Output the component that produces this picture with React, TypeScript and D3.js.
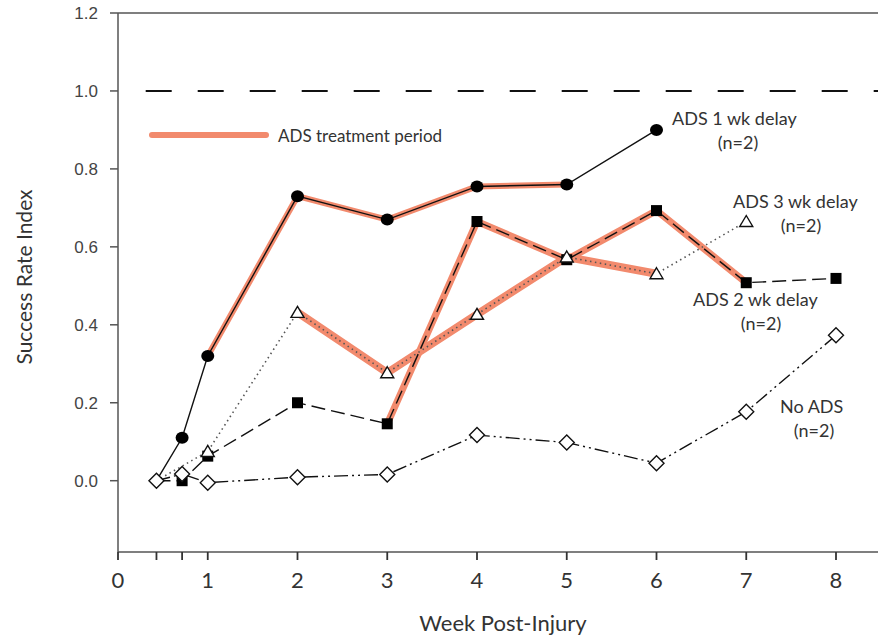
import React, { useEffect, useRef } from 'react'
import * as d3 from 'd3'

// weeks post-injury (3 days, 5 days, then weekly)
const weeksAll = [3 / 7, 5 / 7, 1, 2, 3, 4, 5, 6, 7, 8]

const ads1Weeks = [3 / 7, 5 / 7, 1, 2, 3, 4, 5, 6]
const ads1Values = [0, 0.11, 0.32, 0.73, 0.67, 0.755, 0.76, 0.9]

const ads2Weeks = weeksAll
const ads2Values = [0, 0, 0.063, 0.2, 0.146, 0.665, 0.567, 0.693, 0.508, 0.519]

const ads3Weeks = [3 / 7, 1, 2, 3, 4, 5, 6, 7]
const ads3Values = [0, 0.075, 0.432, 0.277, 0.427, 0.574, 0.531, 0.665]

const noAdsWeeks = weeksAll
const noAdsValues = [0, 0.017, -0.005, 0.009, 0.016, 0.117, 0.098, 0.045, 0.177, 0.373]

const xTickValues = [0, 3 / 7, 5 / 7, 1, 2, 3, 4, 5, 6, 7, 8]
const xTickLabels = ['0', '', '', '1', '2', '3', '4', '5', '6', '7', '8']
const yTickValues = [0, 0.2, 0.4, 0.6, 0.8, 1.0, 1.2]

const ORANGE = '#f28a6d'

const series = [
  { name: 'ADS 1 wk delay', weeks: ads1Weeks, values: ads1Values, marker: 'circle', dash: null, color: '#111', treat: [1, 5], band: 6, hideFirst: true },
  { name: 'ADS 2 wk delay', weeks: ads2Weeks, values: ads2Values, marker: 'square', dash: '14,6', color: '#111', treat: [3, 7], band: 7, hideFirst: true },
  { name: 'ADS 3 wk delay', weeks: ads3Weeks, values: ads3Values, marker: 'triangle', dash: '1.5,3.5', color: '#555', treat: [2, 6], band: 8, hideFirst: true },
  { name: 'No ADS', weeks: noAdsWeeks, values: noAdsValues, marker: 'diamond', dash: '14,4,2,4,2,4', color: '#111', treat: null, band: 0, hideFirst: false }
]

const labels = [
  { text: 'ADS 1 wk delay', x: 672, y: 125, anchor: 'start' },
  { text: '(n=2)', x: 738, y: 149, anchor: 'middle' },
  { text: 'ADS 3 wk delay', x: 733, y: 208, anchor: 'start' },
  { text: '(n=2)', x: 801, y: 232, anchor: 'middle' },
  { text: 'ADS 2 wk delay', x: 693, y: 306, anchor: 'start' },
  { text: '(n=2)', x: 761, y: 330, anchor: 'middle' },
  { text: 'No ADS', x: 780, y: 413, anchor: 'start' },
  { text: '(n=2)', x: 814, y: 437, anchor: 'middle' }
]

const LABEL_FONT = 'Lato, "Open Sans", sans-serif'

const App = () => {
  const chartRef = useRef<SVGSVGElement | null>(null)

  useEffect(() => {
    if (!chartRef.current) return
    const svg = d3.select(chartRef.current)
    svg.selectAll('*').remove()

    const width = 878
    const x = d3.scaleLinear().domain([0, 8]).range([118, 836])
    const y = d3.scaleLinear().domain([0, 1.2]).range([480.7, 13])
    const plotBottom = 552
    const plotRight = width

    svg.append('rect').attr('width', width).attr('height', 639).attr('fill', '#fff')

    // frame: top line, left axis, bottom axis
    const axisColor = '#555'
    svg.append('line').attr('x1', x(0)).attr('x2', plotRight).attr('y1', y(1.2)).attr('y2', y(1.2))
        .attr('stroke', axisColor).attr('stroke-width', 1.5)
    svg.append('line').attr('x1', x(0)).attr('x2', x(0)).attr('y1', y(1.2)).attr('y2', plotBottom)
        .attr('stroke', axisColor).attr('stroke-width', 1.5)
    svg.append('line').attr('x1', x(0)).attr('x2', plotRight).attr('y1', plotBottom).attr('y2', plotBottom)
        .attr('stroke', axisColor).attr('stroke-width', 1.5)

    // y ticks
    const yTicks = svg.append('g')
    yTicks.selectAll('line').data(yTickValues).enter().append('line')
        .attr('x1', x(0) - 8).attr('x2', x(0))
        .attr('y1', d => y(d)).attr('y2', d => y(d))
        .attr('stroke', axisColor).attr('stroke-width', 1.5)
    yTicks.selectAll('text').data(yTickValues).enter().append('text')
        .attr('x', 98).attr('y', d => y(d)).attr('dy', '0.36em')
        .attr('text-anchor', 'end')
        .style('font-family', '"Liberation Sans", Arial, sans-serif')
        .style('font-size', '17px').style('fill', '#444')
        .text(d => d3.format('.1f')(d))

    // x ticks
    const xTicks = svg.append('g')
    xTicks.selectAll('line').data(xTickValues).enter().append('line')
        .attr('x1', d => x(d)).attr('x2', d => x(d))
        .attr('y1', plotBottom).attr('y2', plotBottom + 8)
        .attr('stroke', '#333').attr('stroke-width', 1.8)
    xTicks.selectAll('text').data(xTickValues).enter().append('text')
        .attr('x', d => x(d)).attr('y', 588)
        .attr('text-anchor', 'middle')
        .style('font-family', LABEL_FONT)
        .style('font-size', '22px').style('fill', '#333')
        .text((d, i) => xTickLabels[i])

    // axis titles
    svg.append('text').attr('x', 503).attr('y', 631)
        .attr('text-anchor', 'middle')
        .style('font-family', LABEL_FONT).style('font-size', '22px').style('fill', '#333')
        .text('Week Post-Injury')
    svg.append('text').attr('transform', `translate(32, 277) rotate(-90)`)
        .attr('text-anchor', 'middle')
        .style('font-family', LABEL_FONT).style('font-size', '21px').style('fill', '#333')
        .text('Success Rate Index')

    // reference line at 1.0
    svg.append('line').attr('x1', 145.7).attr('x2', plotRight).attr('y1', y(1)).attr('y2', y(1))
        .attr('stroke', '#111').attr('stroke-width', 2).attr('stroke-dasharray', '26,26')

    // legend for treatment period
    svg.append('line').attr('x1', 152).attr('x2', 266).attr('y1', 135).attr('y2', 135)
        .attr('stroke', ORANGE).attr('stroke-width', 6).attr('stroke-linecap', 'round')
    svg.append('text').attr('x', 278).attr('y', 142)
        .style('font-family', LABEL_FONT).style('font-size', '17px').style('fill', '#333')
        .text('ADS treatment period')

    const line = d3.line<[number, number]>().x(d => x(d[0])).y(d => y(d[1]))
    const pointsOf = s => s.weeks.map((w, i) => [w, s.values[i]] as [number, number])

    // orange highlight for treatment period
    series.filter(s => s.treat).forEach(s => {
      const pts = pointsOf(s).filter(p => p[0] >= s.treat[0] - 1e-6 && p[0] <= s.treat[1] + 1e-6)
      svg.append('path').attr('d', line(pts)).attr('fill', 'none')
          .attr('stroke', ORANGE).attr('stroke-width', s.band)
          .attr('stroke-linejoin', 'round').attr('stroke-linecap', 'butt')
    })

    // series lines
    series.forEach(s => {
      svg.append('path').attr('d', line(pointsOf(s))).attr('fill', 'none')
          .attr('stroke', s.color).attr('stroke-width', s.dash === '1.5,3.5' ? 1.6 : 1.4)
          .attr('stroke-dasharray', s.dash)
    })

    // markers
    const drawMarker = (g, type, cx, cy) => {
      if (type === 'circle') {
        g.append('ellipse').attr('cx', cx).attr('cy', cy).attr('rx', 6.5).attr('ry', 6)
            .attr('fill', '#000')
      } else if (type === 'square') {
        g.append('rect').attr('x', cx - 5.5).attr('y', cy - 5.5).attr('width', 11).attr('height', 11)
            .attr('fill', '#000')
      } else if (type === 'triangle') {
        g.append('path').attr('d', `M${cx},${cy - 6}L${cx + 6.5},${cy + 5}L${cx - 6.5},${cy + 5}Z`)
            .attr('fill', '#fff').attr('stroke', '#111').attr('stroke-width', 1.4)
      } else {
        g.append('path').attr('d', `M${cx},${cy - 7.5}L${cx + 7.5},${cy}L${cx},${cy + 7.5}L${cx - 7.5},${cy}Z`)
            .attr('fill', '#fff').attr('stroke', '#111').attr('stroke-width', 1.4)
      }
    }
    series.forEach(s => {
      const g = svg.append('g')
      pointsOf(s).forEach((p, i) => {
        if (i === 0 && s.hideFirst) return
        drawMarker(g, s.marker, x(p[0]), y(p[1]))
      })
    })

    // series labels
    svg.append('g').selectAll('text').data(labels).enter().append('text')
        .attr('x', d => d.x).attr('y', d => d.y)
        .attr('text-anchor', d => d.anchor)
        .style('font-family', LABEL_FONT).style('font-size', '18px').style('fill', '#333')
        .text(d => d.text)
  }, [])

  return (
      <div style={{ position: 'absolute', left: 0, top: 0, width: 878, height: 639 }}>
        <svg ref={chartRef} width={878} height={639} style={{ display: 'block' }} />
      </div>
  )
}

export default App
